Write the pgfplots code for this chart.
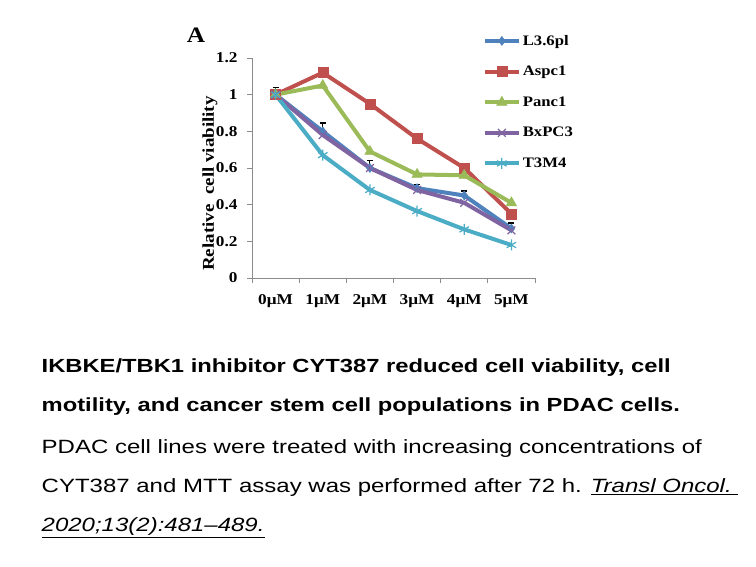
\documentclass[border=0pt]{standalone}
\usepackage{fontspec}
\setmainfont{Liberation Serif}[FakeStretch=1.15]
\newfontfamily\capfont{Liberation Sans}[FakeStretch=1.25]
\usepackage{pgfplots}
\pgfplotsset{compat=1.18}

\definecolor{cL}{HTML}{4F81BD}
\definecolor{cA}{HTML}{C0504D}
\definecolor{cP}{HTML}{9BBB59}
\definecolor{cB}{HTML}{8064A2}
\definecolor{cT}{HTML}{4BACC6}
\definecolor{axgray}{HTML}{8C8C8C}

% relative viability per dose (0..5 uM); L3.6pl carries upper error bars
\pgfplotstableread{
x  y     e
0  1.00  0.040
1  0.80  0.045
2  0.60  0.040
3  0.49  0.020
4  0.45  0.025
5  0.27  0.030
}\tabL
\pgfplotstableread{
x  y
0  1.00
1  1.12
2  0.95
3  0.76
4  0.60
5  0.35
}\tabA
\pgfplotstableread{
x  y
0  1.00
1  1.05
2  0.69
3  0.565
4  0.56
5  0.41
}\tabP
\pgfplotstableread{
x  y
0  1.00
1  0.78
2  0.60
3  0.48
4  0.41
5  0.26
}\tabB
\pgfplotstableread{
x  y
0  1.00
1  0.67
2  0.48
3  0.365
4  0.265
5  0.18
}\tabT

\begin{document}
\begin{tikzpicture}[x=1pt,y=1pt]
\fill[white] (0,0) rectangle (756,567);
\useasboundingbox (0,0) rectangle (756,567);

\node[font=\bfseries\fontsize{22}{22}\selectfont, inner sep=0pt] at (196,532) {A};
\node[font=\bfseries\fontsize{16.5}{16.5}\selectfont, rotate=90, inner sep=0pt] at (210,383.5) {Relative\ \ cell viability};

\begin{axis}[
  at={(252pt,289pt)}, anchor=south west,
  scale only axis, width=283pt, height=220pt,
  xmin=-0.5, xmax=5.5, ymin=0, ymax=1.2,
  axis x line*=bottom, axis y line*=left,
  axis line style={draw=axgray, line width=0.8pt},
  tick style={draw=axgray, line width=0.8pt},
  tick align=outside, major tick length=5pt,
  ytick={0,0.2,0.4,0.6,0.8,1,1.2},
  /pgf/number format/assume math mode=true,
  yticklabel style={font=\bfseries\fontsize{15}{15}\selectfont, xshift=-6pt},
  xtick={-0.5,0.5,1.5,2.5,3.5,4.5,5.5},
  xticklabels={},
  extra x ticks={0,1,2,3,4,5},
  extra x tick labels={0μM,1μM,2μM,3μM,4μM,5μM},
  extra x tick style={major tick length=0pt,
    xticklabel style={font=\bfseries\fontsize{15}{15}\selectfont, yshift=-13pt}},
  clip=false,
  legend style={at={(0.815,1.114)}, anchor=north west, draw=none, fill=none,
    font=\bfseries\fontsize{14.5}{14.5}\selectfont, row sep=15.5pt, inner sep=0pt,
    cells={anchor=west}},
  legend image code/.code={\draw[mark repeat=2,mark phase=2]
    plot coordinates {(0pt,0pt)(17pt,0pt)(34pt,0pt)};},
  every axis plot/.append style={line width=4pt},
]
\addplot[cL, mark=diamond*, mark size=4.5pt, mark options={line width=0.5pt},
  error bars/.cd, y dir=plus, y explicit,
  error bar style={black, line width=1pt},
  error mark options={rotate=90, mark size=3pt, black, line width=1.2pt}]
  table[x=x, y=y, y error=e] {\tabL};
\addlegendentry{L3.6pl}
\addplot[cA, mark=square*, mark size=5pt, mark options={line width=0.5pt}] table[x=x, y=y] {\tabA};
\addlegendentry{Aspc1}
\addplot[cP, mark=triangle*, mark size=6pt, mark options={line width=0.5pt}] table[x=x, y=y] {\tabP};
\addlegendentry{Panc1}
\addplot[cB, mark=x, mark size=5.5pt, mark options={line width=1.2pt}] table[x=x, y=y] {\tabB};
\addlegendentry{BxPC3}
\addplot[cT, mark=asterisk, mark size=5.5pt, mark options={line width=1.2pt}] table[x=x, y=y] {\tabT};
\addlegendentry{T3M4}
\end{axis}

\begin{scope}[every node/.style={anchor=base west, inner sep=0pt}]
\node[font=\capfont\bfseries\fontsize{19}{19}\selectfont] at (41.5,194.5)
  {IKBKE/TBK1 inhibitor CYT387 reduced cell viability, cell};
\node[font=\capfont\bfseries\fontsize{19}{19}\selectfont] at (41.5,155.3)
  {motility, and cancer stem cell populations in PDAC cells.};
\node[font=\capfont\fontsize{19.2}{19.2}\selectfont] at (41.5,113)
  {PDAC cell lines were treated with increasing concentrations of};
\node[font=\capfont\fontsize{19.2}{19.2}\selectfont] at (41.5,74)
  {CYT387 and MTT assay was performed after 72 h. \underline{\textit{Transl Oncol.\ }}};
\node[font=\capfont\fontsize{19.2}{19.2}\selectfont] at (41.5,35.5)
  {\underline{\textit{2020;13(2):481–489.}}};
\end{scope}
\end{tikzpicture}
\end{document}
